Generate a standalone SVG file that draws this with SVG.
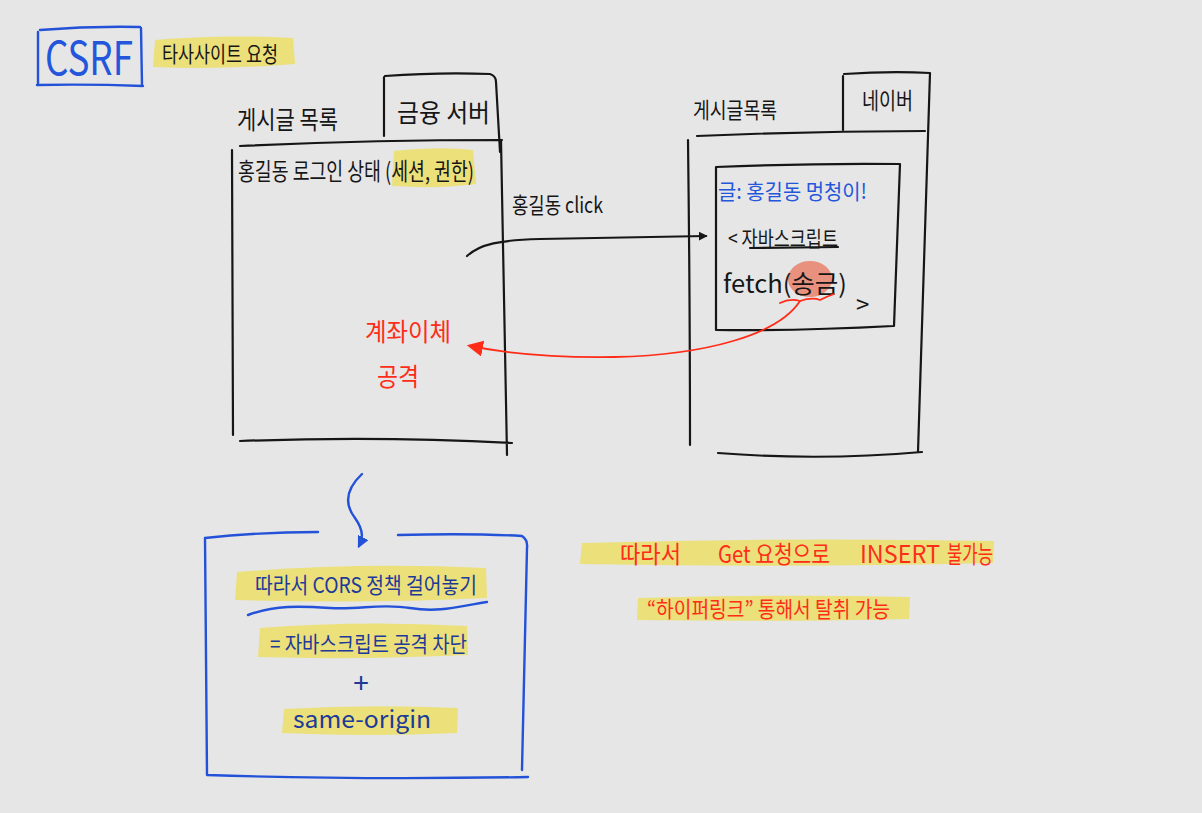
<svg xmlns="http://www.w3.org/2000/svg" width="1202" height="813" viewBox="0 0 1202 813">
<defs>
<style>
.t{font-family:'Noto Sans CJK KR','Noto Sans',sans-serif;}
.k{fill:#161616;}
.b{fill:#2456dc;}
.n{fill:#1c3a98;}
.r{fill:#ff2c18;}
.ln{fill:none;stroke:#161616;stroke-width:2.2;stroke-linecap:round;stroke-linejoin:round;}
.bl{fill:none;stroke:#2352d8;stroke-width:2.4;stroke-linecap:round;stroke-linejoin:round;}
.rl{fill:none;stroke:#ff2c18;stroke-width:1.8;stroke-linecap:round;}
.hl{fill:#ebe07a;}
</style>
<marker id="ak" viewBox="0 0 10 10" refX="8" refY="5" markerWidth="4" markerHeight="4" orient="auto" markerUnits="strokeWidth"><path d="M0,0 L10,5 L0,10 z" fill="#161616"/></marker>
<marker id="ar" viewBox="0 0 10 10" refX="8" refY="5" markerWidth="9" markerHeight="9" orient="auto" markerUnits="strokeWidth"><path d="M0,0 L10,5 L0,10 z" fill="#ff2c18"/></marker>
<marker id="ab" viewBox="0 0 10 10" refX="8" refY="5" markerWidth="5" markerHeight="5" orient="auto" markerUnits="strokeWidth"><path d="M0,0 L10,5 L0,10 z" fill="#2352d8"/></marker>
</defs>
<rect width="1202" height="813" fill="#e6e6e6"/>

<g id="title">
<path class="bl" d="M38,32 L38,85 M40,30 Q90,26 140,27 M141,28 L142,85 M37,85 Q90,84 143,86"/>
<text class="t b" x="45" y="75" font-size="46" textLength="88" lengthAdjust="spacingAndGlyphs">CSRF</text>
<path class="hl" d="M155,40 Q220,34 293,38 L295,64 Q220,70 153,67 z"/>
<text class="t k" x="162" y="62" font-size="22" textLength="116" lengthAdjust="spacingAndGlyphs">타사사이트 요청</text>
</g>

<g id="left-page">
<path class="ln" d="M384,77 L384,136 M385,76 Q440,72 490,74 Q496,76 496,82 L500,152"/>
<path class="ln" d="M240,146 Q370,140 502,140 M232,150 L233,435 M240,441 Q380,436 512,443 M501,140 L507,455"/>
<text class="t k" x="237" y="129" font-size="25" textLength="101" lengthAdjust="spacingAndGlyphs">게시글 목록</text>
<text class="t k" x="397" y="122" font-size="25" textLength="93" lengthAdjust="spacingAndGlyphs">금융 서버</text>
<path class="hl" d="M394,151 Q440,146 473,150 L476,184 Q440,189 392,186 z"/>
<text class="t k" x="238" y="180" font-size="24" textLength="236" lengthAdjust="spacingAndGlyphs">홍길동 로그인 상태 (세션, 권한)</text>
<text class="t r" x="365" y="341" font-size="25" textLength="86" lengthAdjust="spacingAndGlyphs">계좌이체</text>
<text class="t r" x="377" y="386" font-size="25" textLength="42" lengthAdjust="spacingAndGlyphs">공격</text>
</g>

<g id="right-page">
<path class="ln" d="M843,76 L843,130 M844,74 Q890,71 930,73 L918,452"/>
<path class="ln" d="M697,136 Q810,131 925,131 M688,140 Q690,300 690,445 M718,453 Q820,461 922,452"/>
<text class="t k" x="693" y="118" font-size="22" textLength="84" lengthAdjust="spacingAndGlyphs">게시글목록</text>
<text class="t k" x="862" y="109" font-size="23" textLength="51" lengthAdjust="spacingAndGlyphs">네이버</text>
</g>

<g id="script-box">
<path class="ln" d="M716,167 Q810,163 900,164 L894,326 M716,167 L716,330 Q800,331 893,326"/>
<text class="t b" x="718" y="199" font-size="21" textLength="149" lengthAdjust="spacingAndGlyphs">글: 홍길동 멍청이!</text>
<text class="t k" x="728" y="246" font-size="21" textLength="110" lengthAdjust="spacingAndGlyphs">&lt; 자바스크립트</text>
<path class="ln" d="M750,248 L838,247" stroke-width="1.6"/>
<ellipse cx="810" cy="279" rx="22" ry="18" fill="#e8917f"/>
<text class="t k" x="723" y="293" font-size="25" textLength="124" lengthAdjust="spacingAndGlyphs">fetch(송금)</text>
<text class="t k" x="856" y="313" font-size="24">&gt;</text>
</g>

<g id="cors-box">
<path class="bl" d="M205,538 Q260,532 318,532 M398,535 Q470,533 522,536 Q528,540 527,548 L522,770 M205,538 L207,775 Q360,780 528,777"/>
<path class="hl" d="M237,572 Q360,562 486,568 L487,598 Q360,604 235,600 z"/>
<text class="t n" x="255" y="593" font-size="22" textLength="222" lengthAdjust="spacingAndGlyphs">따라서 CORS 정책 걸어놓기</text>
<path class="bl" d="M248,615 C275,605 300,606 330,608 S380,603 410,608 S460,606 487,602" stroke-width="2"/>
<path class="hl" d="M260,628 Q360,620 467,626 L468,655 Q360,660 258,657 z"/>
<text class="t n" x="270" y="652" font-size="22" textLength="197" lengthAdjust="spacingAndGlyphs">= 자바스크립트 공격 차단</text>
<text class="t n" x="361" y="693" font-size="28" text-anchor="middle">+</text>
<path class="hl" d="M284,709 Q370,704 458,708 L457,733 Q370,737 282,733 z"/>
<text class="t n" x="293" y="728" font-size="24" textLength="138" lengthAdjust="spacingAndGlyphs">same-origin</text>
</g>

<g id="note">
<path class="hl" d="M582,543 Q790,537 994,541 L993,563 Q790,568 580,564 z"/>
<text class="t r" x="620" y="563" font-size="24" textLength="61" lengthAdjust="spacingAndGlyphs">따라서</text>
<text class="t r" x="718" y="563" font-size="24" textLength="112" lengthAdjust="spacingAndGlyphs">Get 요청으로</text>
<text class="t r" x="860" y="563" font-size="24" textLength="80" lengthAdjust="spacingAndGlyphs">INSERT</text>
<text class="t r" x="947" y="563" font-size="24" textLength="46" lengthAdjust="spacingAndGlyphs">불가능</text>
<path class="hl" d="M638,598 Q780,594 910,597 L909,619 Q780,622 637,620 z"/>
<text class="t r" x="647" y="617" font-size="22" textLength="243" lengthAdjust="spacingAndGlyphs">“하이퍼링크” 통해서 탈취 가능</text>
</g>

<g id="connectors">
<path class="ln" d="M467,256 C480,244 500,240 540,239 L706,236" marker-end="url(#ak)"/>
<text class="t k" x="512" y="213" font-size="22" textLength="91" lengthAdjust="spacingAndGlyphs">홍길동 click</text>
<path class="rl" d="M780,303 Q790,298 800,301 Q812,297 820,300 Q828,296 834,294"/>
<path class="rl" d="M800,301 C778,335 705,355 615,357 C555,358 505,353 470,346" marker-end="url(#ar)"/>
<path class="bl" d="M362,474 C345,490 345,505 355,518 C365,532 362,540 359,546" marker-end="url(#ab)"/>
</g>
</svg>
